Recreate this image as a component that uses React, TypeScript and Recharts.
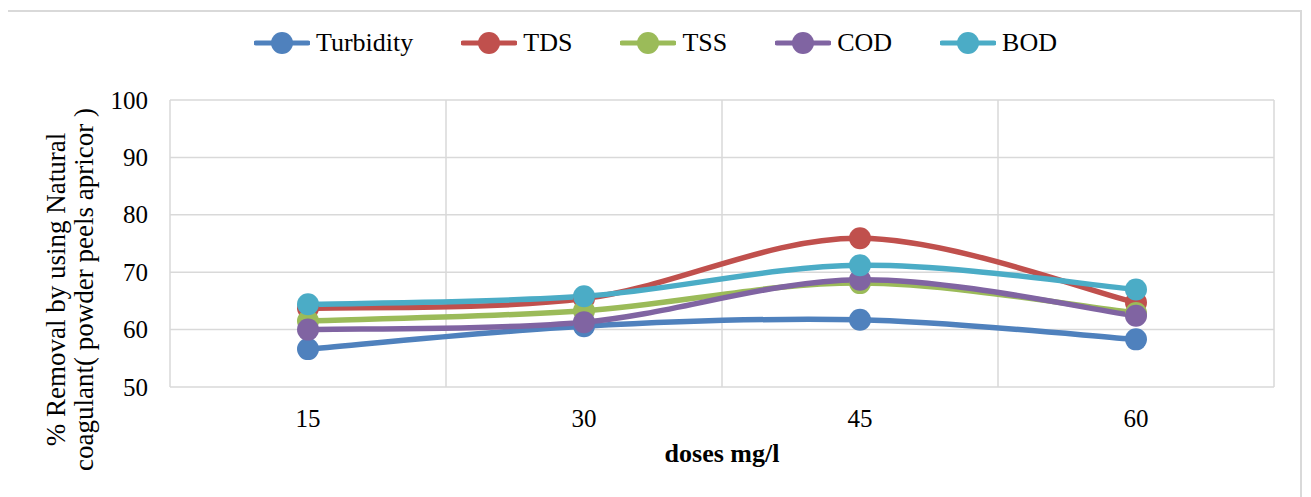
import React from 'react';
import { LineChart, Line, XAxis, YAxis, CartesianGrid, Legend } from 'recharts';

const doses = [15, 30, 45, 60];
const turbidity = [56.6, 60.6, 61.7, 58.3];
const tds = [63.7, 65.4, 75.9, 64.7];
const tss = [61.5, 63.3, 68.1, 62.9];
const cod = [60.0, 61.3, 68.7, 62.4];
const bod = [64.4, 65.8, 71.2, 67.0];

const seriesNames = ['Turbidity', 'TDS', 'TSS', 'COD', 'BOD'];
const seriesColors = ['#4F81BD', '#C0504D', '#9BBB59', '#8064A2', '#4BACC6'];
const seriesValues = [turbidity, tds, tss, cod, bod];

const yTicks = [50, 60, 70, 80, 90, 100];
const xDomain = [7.5, 67.5];
const gridBounds = [7.5, 22.5, 37.5, 52.5, 67.5];

const xTitle = 'doses mg/l';
const yTitle1 = '% Removal by using Natural';
const yTitle2 = 'coagulant( powder peels apricor )';

const FONT = "'Liberation Serif', 'Times New Roman', serif";

const data = doses.map((d, i) => {
  const row: Record<string, number> = { dose: d };
  seriesNames.forEach((n, k) => {
    row[n] = seriesValues[k][i];
  });
  return row;
});

// Excel-like smoothed line (Catmull-Rom, tension 1/6)
const excelCurve = (context: any) => {
  let pts: number[][] = [];
  return {
    areaStart() {},
    areaEnd() {},
    lineStart() {
      pts = [];
    },
    lineEnd() {
      if (!pts.length) return;
      context.moveTo(pts[0][0], pts[0][1]);
      for (let i = 0; i < pts.length - 1; i++) {
        const p0 = pts[i - 1] || pts[i];
        const p1 = pts[i];
        const p2 = pts[i + 1];
        const p3 = pts[i + 2] || pts[i + 1];
        context.bezierCurveTo(
          p1[0] + (p2[0] - p0[0]) / 6,
          p1[1] + (p2[1] - p0[1]) / 6,
          p2[0] - (p3[0] - p1[0]) / 6,
          p2[1] - (p3[1] - p1[1]) / 6,
          p2[0],
          p2[1]
        );
      }
    },
    point(x: number, y: number) {
      pts.push([+x, +y]);
    },
  };
};

const XTick = (props: any) => {
  const { x, y, payload } = props;
  return (
    <text x={x} y={y} textAnchor="middle" dominantBaseline="central" fontSize={25} fontFamily={FONT} style={{ fontFamily: FONT }} fill="#000">
      {payload.value}
    </text>
  );
};

const YTick = (props: any) => {
  const { x, y, payload } = props;
  return (
    <text x={x} y={y} textAnchor="end" dominantBaseline="central" fontSize={25} fontFamily={FONT} style={{ fontFamily: FONT }} fill="#000">
      {payload.value}
    </text>
  );
};

const XLabel = (props: any) => {
  const vb = props.viewBox || {};
  return (
    <text
      x={vb.x + vb.width / 2}
      y={vb.y + 75}
      textAnchor="middle"
      fontSize={26}
      fontWeight="bold"
      fontFamily={FONT}
      style={{ fontFamily: FONT }}
      fill="#000"
    >
      {xTitle}
    </text>
  );
};

const YLabel = (props: any) => {
  const vb = props.viewBox || {};
  const cy = vb.y + vb.height / 2 + 46;
  return (
    <text
      transform={`translate(65, ${cy}) rotate(-90)`}
      textAnchor="middle"
      fontSize={27}
      fontFamily={FONT}
      style={{ fontFamily: FONT }}
      fill="#000"
    >
      <tspan x={0} y={0}>
        {yTitle1}
      </tspan>
      <tspan x={0} y={28}>
        {yTitle2}
      </tspan>
    </text>
  );
};

const renderLegend = () => (
  <div
    style={{
      display: 'flex',
      justifyContent: 'center',
      alignItems: 'center',
      gap: 48,
      fontFamily: FONT,
      fontSize: 26,
      color: '#000',
      height: 30,
    }}
  >
    {seriesNames.map((n, i) => (
      <div key={n} style={{ display: 'flex', alignItems: 'center' }}>
        <svg width={56} height={26} style={{ display: 'block' }}>
          <line x1={2} y1={13} x2={54} y2={13} stroke={seriesColors[i]} strokeWidth={5} strokeLinecap="round" />
          <circle cx={28} cy={13} r={11} fill={seriesColors[i]} />
        </svg>
        <span style={{ marginLeft: 6, lineHeight: '30px', fontFamily: FONT }}>{n}</span>
      </div>
    ))}
  </div>
);

export default function App() {
  return (
    <div
      style={{
        position: 'relative',
        marginLeft: -2,
        marginTop: 2,
        width: 1296,
        height: 490,
        border: '2px solid #d9d9d9',
        boxSizing: 'border-box',
        background: '#fff',
        fontFamily: FONT,
      }}
    >
      <div style={{ position: 'absolute', left: -8, top: -12 }}>
        <LineChart width={1311} height={497} data={data} margin={{ top: 100, right: 37, bottom: 0, left: 0 }}>
          <CartesianGrid
            stroke="#d9d9d9"
            strokeWidth={1.5}
            verticalCoordinatesGenerator={(p: any) => {
              const sc = p?.xAxis?.scale;
              if (sc && typeof sc === 'function') return gridBounds.map((g) => sc(g));
              const off = p.offset;
              return gridBounds.map((g) => off.left + ((g - xDomain[0]) / (xDomain[1] - xDomain[0])) * off.width);
            }}
          />
          <XAxis
            dataKey="dose"
            type="number"
            domain={xDomain}
            ticks={doses}
            height={110}
            axisLine={false}
            tickLine={false}
            tickSize={0}
            tickMargin={31}
            tick={<XTick />}
            interval={0}
            label={<XLabel />}
          />
          <YAxis
            type="number"
            domain={[50, 100]}
            ticks={yTicks}
            width={170}
            axisLine={false}
            tickLine={false}
            tickSize={0}
            tickMargin={22}
            tick={<YTick />}
            interval={0}
            label={<YLabel />}
          />
          <Legend
            verticalAlign="middle"
            align="center"
            layout="horizontal"
            content={renderLegend}
            wrapperStyle={{ top: 28, left: 0, width: 1311 }}
          />
          {seriesNames.map((n, i) => (
            <Line
              key={n}
              dataKey={n}
              name={n}
              type={excelCurve as any}
              stroke={seriesColors[i]}
              strokeWidth={5.5}
              dot={{ r: 11, fill: seriesColors[i], stroke: seriesColors[i], strokeWidth: 0 }}
              activeDot={false}
              isAnimationActive={false}
            />
          ))}
        </LineChart>
      </div>
    </div>
  );
}
